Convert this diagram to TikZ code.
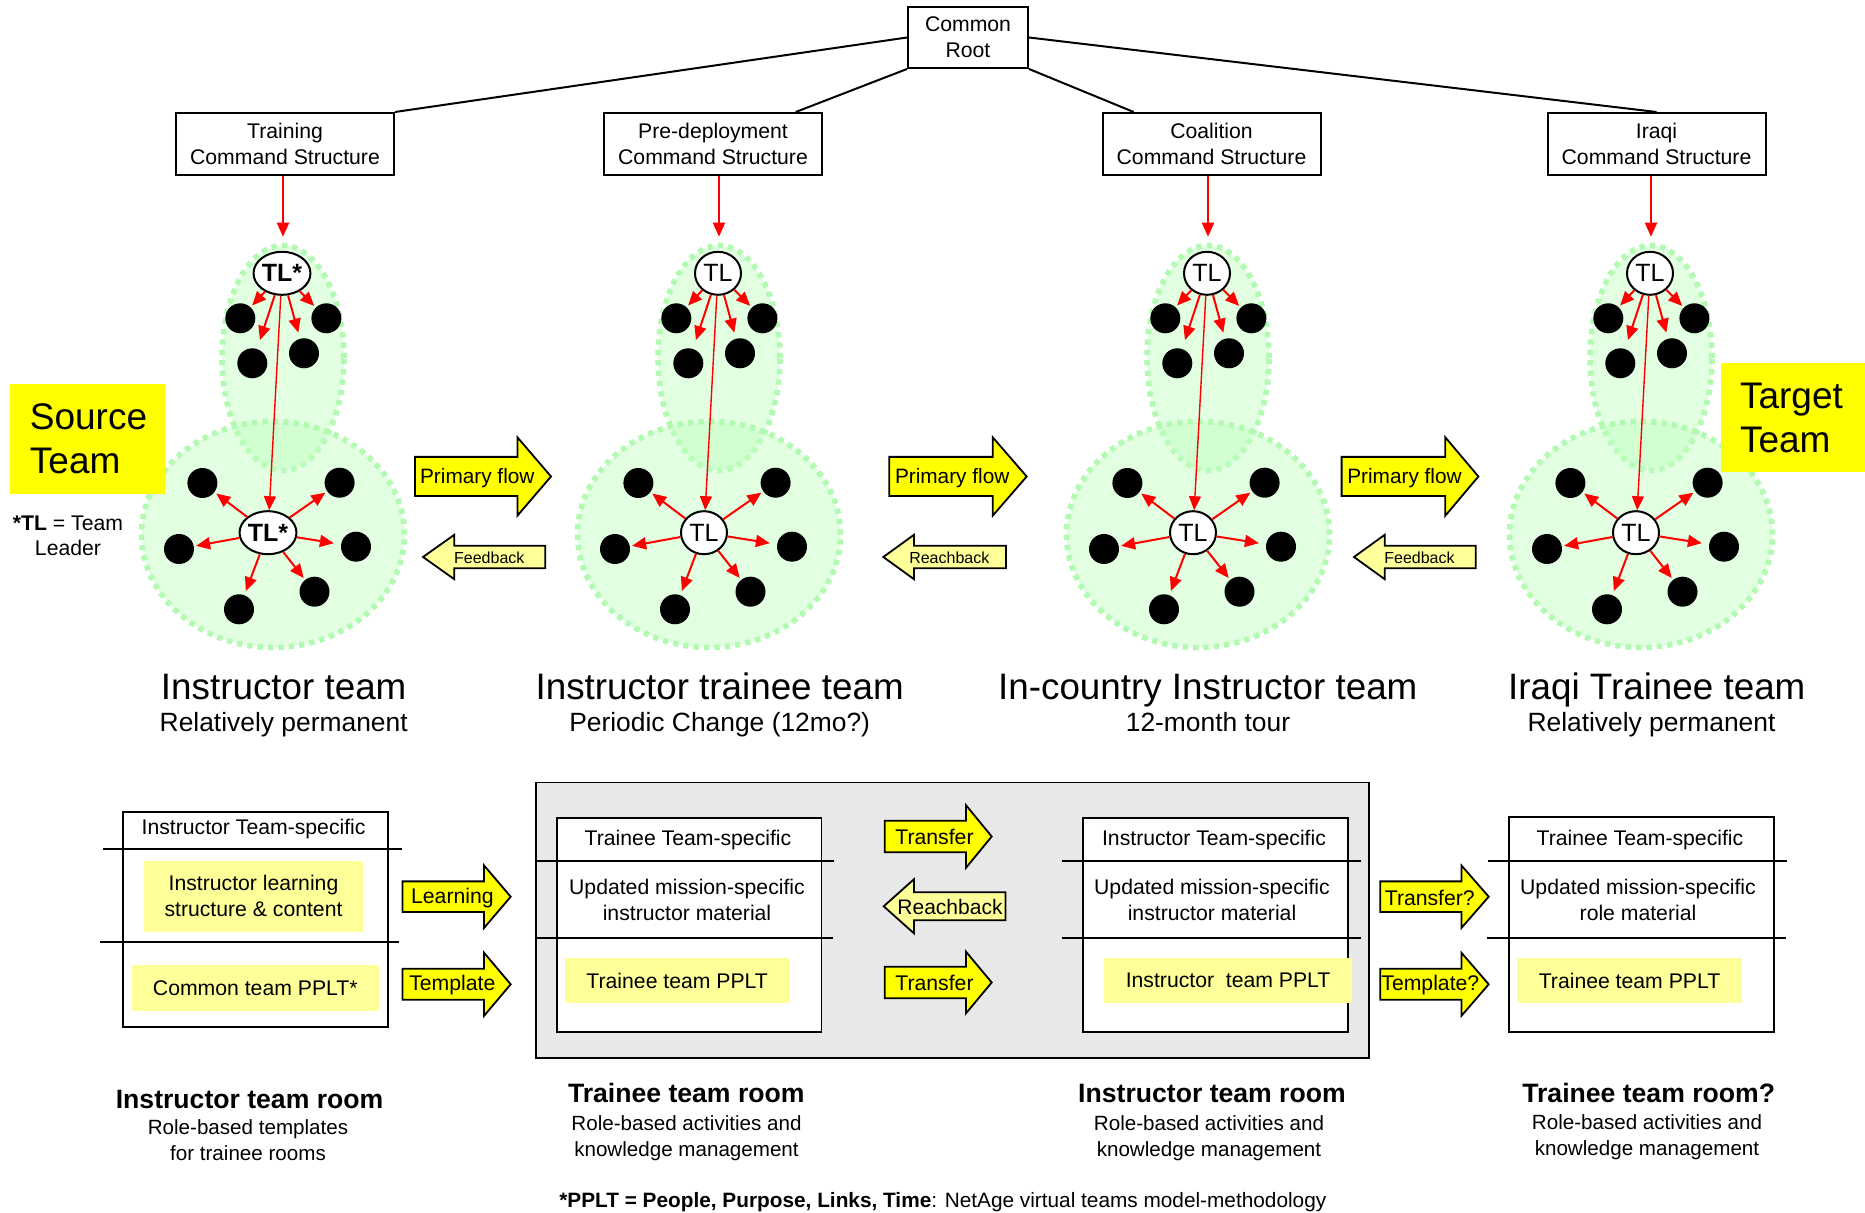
\documentclass[tikz,border=0pt]{standalone}
\usepackage{fontspec}
\setmainfont{Liberation Sans}
\usetikzlibrary{shapes.geometric,arrows.meta}

\definecolor{zonegreen}{RGB}{190,255,190}
\definecolor{zoneline}{RGB}{178,250,178}
\definecolor{flowyellow}{RGB}{255,255,0}
\definecolor{paleyellow}{RGB}{255,255,153}
\definecolor{roomgray}{RGB}{232,232,232}

\newcommand{\blockarrow}[7]{%
  \draw[#1] (#2,#5-#6) -- (#3,#5-#6) -- (#3,#5-#7) -- (#4,#5)
    -- (#3,#5+#7) -- (#3,#5+#6) -- (#2,#5+#6) -- cycle;}

\tikzset{
  plain/.style={inner sep=0pt, align=center, font=\fontsize{10.6}{13}\selectfont},
  cmdbox/.style={plain, draw, line width=1pt, fill=white, minimum width=109pt, minimum height=31pt},
  zone/.style={ellipse, fill=zonegreen, fill opacity=0.45, draw=zoneline, line width=2.8pt,
    dash pattern=on 2.6pt off 2.6pt, inner sep=0pt},
  topzone/.style={zone, minimum width=61pt, minimum height=112.5pt},
  basezone/.style={zone, minimum width=131.5pt, minimum height=113pt},
  member/.style={circle, fill=black, minimum size=15pt, inner sep=0pt},
  leader/.style={ellipse, draw, fill=white, line width=1pt, minimum width=23pt, minimum height=21.5pt,
    inner sep=0pt, font=\fontsize{12.5}{14}\selectfont},
  order/.style={red, line width=1pt, -{Triangle[length=7pt,width=6pt]}, shorten >=1pt},
  chain/.style={red, line width=0.7pt, -{Triangle[length=7pt,width=6pt]}},
  teamflag/.style={fill=flowyellow, inner sep=0pt, align=left, minimum height=54.8pt,
    font=\fontsize{18.5}{22}\selectfont},
  teamtitle/.style={anchor=base, inner sep=0pt, font=\fontsize{18.4}{22}\selectfont},
  teamsub/.style={anchor=base, inner sep=0pt, font=\fontsize{13.2}{16}\selectfont},
  bigflow/.style={fill=flowyellow, draw=black, line width=0.9pt},
  backflow/.style={fill=paleyellow, draw=black, line width=0.9pt},
  flowtext/.style={plain, font=\fontsize{10.4}{12}\selectfont},
  smallflow/.style={plain, font=\fontsize{8}{10}\selectfont},
  room/.style={draw, line width=0.9pt, fill=white, minimum width=132.3pt, minimum height=107.3pt, inner sep=0pt},
  divider/.style={line width=0.9pt},
  tag/.style={plain, fill=paleyellow},
  roomtitle/.style={plain, font=\bfseries\fontsize{13.3}{16}\selectfont},
  roomsub/.style={plain, font=\fontsize{10.3}{13}\selectfont}
}

\begin{document}
\begin{tikzpicture}[x=0.5pt, y=-0.5pt]
  \useasboundingbox (0,0) rectangle (1865,1213);

  \node[cmdbox, minimum width=60pt, minimum height=30.5pt] (root) at (968,37.5) {Common\\Root};
  \node[cmdbox] (train) at (285,144) {Training\\Command Structure};
  \node[cmdbox] (pre) at (713,144) {Pre-deployment\\Command Structure};
  \node[cmdbox] (coal) at (1211.5,144) {Coalition\\Command Structure};
  \node[cmdbox] (iraq) at (1656.5,144) {Iraqi\\Command Structure};

  \begin{scope}[line width=1pt]
    \draw (root.west) -- (train.north east);
    \draw (root.south west) -- (pre);
    \draw (root.south east) -- (coal);
    \draw (root.east) -- (iraq.north);
  \end{scope}

  \node[topzone] (eA) at (283,358) {};
  \node[basezone] (cA) at (273,534.5) {};
  \node[topzone] (eB) at (719,358) {};
  \node[basezone] (cB) at (709,534.5) {};
  \node[topzone] (eC) at (1208,358) {};
  \node[basezone] (cC) at (1198,534.5) {};
  \node[topzone] (eD) at (1651,358) {};
  \node[basezone] (cD) at (1641,534.5) {};

  \path[every node/.style=member]
    (240.3,318.3) node (tA1){}
    (326.4,318.3) node (tA2){}
    (252.3,363.3) node (tA3){}
    (304,353.3) node (tA4){}
    (202.4,483) node (lA1){}
    (339.6,482.7) node (lA2){}
    (179,549) node (lA3){}
    (356,546.7) node (lA4){}
    (239,609.3) node (lA5){}
    (314.5,591.7) node (lA6){}
    (676.3,318.3) node (tB1){}
    (762.4,318.3) node (tB2){}
    (688.3,363.3) node (tB3){}
    (740,353.3) node (tB4){}
    (638.4,483) node (lB1){}
    (775.6,482.7) node (lB2){}
    (615,549) node (lB3){}
    (792,546.7) node (lB4){}
    (675,609.3) node (lB5){}
    (750.5,591.7) node (lB6){}
    (1165.3,318.3) node (tC1){}
    (1251.4,318.3) node (tC2){}
    (1177.3,363.3) node (tC3){}
    (1229,353.3) node (tC4){}
    (1127.4,483) node (lC1){}
    (1264.6,482.7) node (lC2){}
    (1104,549) node (lC3){}
    (1281,546.7) node (lC4){}
    (1164,609.3) node (lC5){}
    (1239.5,591.7) node (lC6){}
    (1608.3,318.3) node (tD1){}
    (1694.4,318.3) node (tD2){}
    (1620.3,363.3) node (tD3){}
    (1672,353.3) node (tD4){}
    (1570.4,483) node (lD1){}
    (1707.6,482.7) node (lD2){}
    (1547,549) node (lD3){}
    (1724,546.7) node (lD4){}
    (1607,609.3) node (lD5){}
    (1682.5,591.7) node (lD6){};

  \node[leader] (tA) at (282,273.3) {\textbf{TL*}};
  \node[leader] (lA) at (268,532.7) {\textbf{TL*}};
  \node[leader] (tB) at (718,273.3) {TL};
  \node[leader] (lB) at (704,532.7) {TL};
  \node[leader] (tC) at (1207,273.3) {TL};
  \node[leader] (lC) at (1193,532.7) {TL};
  \node[leader] (tD) at (1650,273.3) {TL};
  \node[leader] (lD) at (1636,532.7) {TL};

  \draw[order, shorten >=3pt] (train.south -| eA.north) -- (eA.north);
  \draw[order, shorten >=3pt] (pre.south -| eB.north) -- (eB.north);
  \draw[order, shorten >=3pt] (coal.south -| eC.north) -- (eC.north);
  \draw[order, shorten >=3pt] (iraq.south -| eD.north) -- (eD.north);

  \foreach \t in {A,B,C,D} {
    \draw[chain] (t\t) -- (l\t);
    \draw[order] (t\t) -- (t\t1);
    \draw[order] (t\t) -- (t\t2);
    \draw[order, shorten >=4.5pt] (t\t) -- (t\t3);
    \draw[order, shorten >=3pt] (t\t) -- (t\t4);
    \draw[order] (l\t) -- (l\t1);
    \draw[order] (l\t) -- (l\t2);
    \draw[order] (l\t) -- (l\t3);
    \draw[order, shorten >=3.5pt] (l\t) -- (l\t4);
    \draw[order, shorten >=2pt] (l\t) -- (l\t5);
    \draw[order] (l\t) -- (l\t6);
  }

  \node[teamflag, text width=57.5pt, inner xsep=10.2pt] (source) at (87.4,438.8) {Source\\Team};
  \node[teamflag, text width=53pt, inner xsep=9.5pt] (target) at (1793,417.5) {Target\\Team};
  \node[plain, font=\fontsize{10.6}{12.5}\selectfont] (tlnote) at (68,535.8) {\textbf{*TL} = Team\\Leader};

  \blockarrow{bigflow}{415}{517.4}{551}{476.5}{19.6}{39.2}
  \blockarrow{bigflow}{889.3}{992.7}{1026.7}{476.5}{19.6}{39.2}
  \blockarrow{bigflow}{1341.6}{1445.3}{1478.4}{476.5}{19.6}{39.2}
  \blockarrow{backflow}{545.3}{454.3}{423}{557}{11.2}{22.2}
  \blockarrow{backflow}{1006}{914}{883.3}{557}{11.2}{22.2}
  \blockarrow{backflow}{1475.8}{1384.7}{1354}{557}{11.2}{22.2}
  \node[flowtext] (flowA) at (477.3,478) {Primary flow};
  \node[flowtext] (flowB) at (952.2,478) {Primary flow};
  \node[flowtext] (flowC) at (1404.5,478) {Primary flow};
  \node[smallflow] (backA) at (489.3,558) {Feedback};
  \node[smallflow] (backB) at (949.3,558) {Reachback};
  \node[smallflow] (backC) at (1419.5,558) {Feedback};

  \node[teamtitle] (titleA) at (283.7,699.5) {Instructor team};
  \node[teamsub] (subA) at (283.7,732) {Relatively permanent};
  \node[teamtitle] (titleB) at (719.7,699.5) {Instructor trainee team};
  \node[teamsub] (subB) at (719.7,732) {Periodic Change (12mo?)};
  \node[teamtitle] (titleC) at (1207.8,699.5) {In-country Instructor team};
  \node[teamsub] (subC) at (1208,732) {12-month tour};
  \node[teamtitle] (titleD) at (1656.8,699.5) {Iraqi Trainee team};
  \node[teamsub] (subD) at (1651.5,732) {Relatively permanent};

  \node[draw, line width=0.9pt, fill=roomgray, minimum width=416.5pt, minimum height=137.8pt, inner sep=0pt]
    (hall) at (952.5,920.3) {};
  \node[room] (roomA) at (255.3,919.7) {};
  \node[room] (roomB) at (689.2,925) {};
  \node[room] (roomC) at (1215.3,925) {};
  \node[room] (roomD) at (1641.6,924.7) {};

  \draw[divider] (103,849.3) -- (402,849.3);
  \draw[divider] (100,941.7) -- (399,941.7);
  \draw[divider] (535.4,860.7) -- (834,860.7);
  \draw[divider] (535.4,938.3) -- (833,938.3);
  \draw[divider] (1062,860.7) -- (1361,860.7);
  \draw[divider] (1062,938.3) -- (1361,938.3);
  \draw[divider] (1488,861) -- (1786.7,861);
  \draw[divider] (1487,938.3) -- (1786,938.3);

  \node[plain] (headA) at (253.6,829) {Instructor Team-specific};
  \node[tag, minimum width=109.5pt, minimum height=35.3pt] (learnA) at (253.5,896.4) {Instructor learning\\structure \& content};
  \node[tag, minimum width=123.3pt, minimum height=23pt] (ppltA) at (255.3,988) {Common team PPLT*};
  \node[plain] (headB) at (688,840.5) {Trainee Team-specific};
  \node[plain] (midB) at (687,899.5) {Updated mission-specific\\instructor material};
  \node[tag, minimum width=112.2pt, minimum height=22.2pt] (ppltB) at (677.2,980.5) {Trainee team PPLT};
  \node[plain] (headC) at (1214,840.5) {Instructor Team-specific};
  \node[plain] (midC) at (1212,899.5) {Updated mission-specific\\instructor material};
  \node[tag, minimum width=123.9pt, minimum height=22.2pt] (ppltC) at (1228.1,980.5) {Instructor\ \ team PPLT};
  \node[plain] (headD) at (1640,840.5) {Trainee Team-specific};
  \node[plain] (midD) at (1638,899.5) {Updated mission-specific\\role material};
  \node[tag, minimum width=112.5pt, minimum height=22.2pt] (ppltD) at (1629.5,980.5) {Trainee team PPLT};

  \blockarrow{bigflow}{402.5}{484}{510.7}{896.7}{15.3}{31.3}
  \blockarrow{bigflow}{402.5}{484}{510.7}{984.3}{15.5}{31.6}
  \blockarrow{bigflow}{884.8}{966}{991.7}{836.5}{15.8}{31.3}
  \blockarrow{backflow}{1005.5}{913.9}{883.7}{906.3}{14}{27}
  \blockarrow{bigflow}{884.8}{966}{991.7}{982.5}{15.8}{30.8}
  \blockarrow{bigflow}{1380.2}{1461.4}{1488.7}{896.7}{15.3}{31.3}
  \blockarrow{bigflow}{1380.2}{1461.4}{1488.7}{984.3}{15.5}{31.6}
  \node[plain] (learnflow) at (452.4,898) {Learning};
  \node[plain] (tempflow) at (452.3,985) {Template};
  \node[plain] (transtop) at (934.5,837) {Transfer};
  \node[plain, font=\fontsize{10.5}{12}\selectfont] (reachlow) at (950,907) {Reachback};
  \node[plain] (transbot) at (934.5,983) {Transfer};
  \node[plain] (transq) at (1429.8,897.5) {Transfer?};
  \node[plain] (tempq) at (1430.3,985) {Template?};

  \node[roomtitle] (roomtA) at (249.6,1099.3) {Instructor team room};
  \node[roomsub] (roomsA) at (248,1139.7) {Role-based templates\\for trainee rooms};
  \node[roomtitle] (roomtB) at (686.3,1093.3) {Trainee team room};
  \node[roomsub] (roomsB) at (686.5,1138) {Role-based activities and\\knowledge management};
  \node[roomtitle] (roomtC) at (1212,1093.3) {Instructor team room};
  \node[roomsub] (roomsC) at (1209,1138) {Role-based activities and\\knowledge management};
  \node[roomtitle] (roomtD) at (1648.7,1092.7) {Trainee team room?};
  \node[roomsub] (roomsD) at (1647,1136.7) {Role-based activities and\\knowledge management};

  \node[anchor=base, inner sep=0pt, font=\fontsize{10.4}{12}\selectfont] (pplt) at (942.8,1207.7)
    {\textbf{*PPLT = People, Purpose, Links, Time}: NetAge virtual teams model-methodology};
\end{tikzpicture}
\end{document}
